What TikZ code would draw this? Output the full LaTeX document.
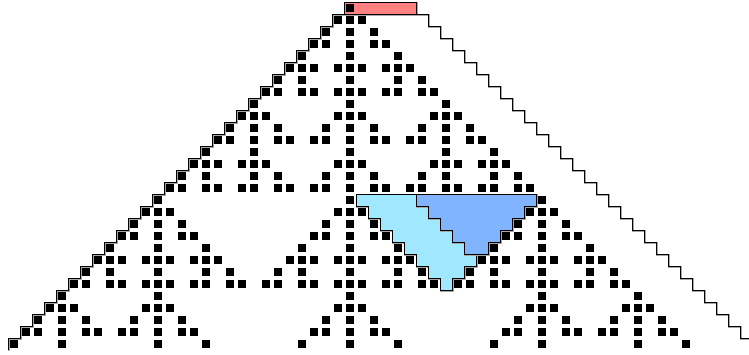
\documentclass[tikz,border=0pt]{standalone}
\definecolor{pinkfill}{HTML}{FF8080}
\definecolor{lightbluefill}{HTML}{A0E8FF}
\definecolor{darkbluefill}{HTML}{80B4FF}
\def\cellval#1#2{\ifcsname CA:#1:#2\endcsname 1\else 0\fi}
\expandafter\gdef\csname CA:0:0\endcsname{}
\foreach \r in {1,...,28}{%
  \foreach \c in {-28,...,28}{%
    \ifodd\numexpr\cellval{\the\numexpr\r-1\relax}{\the\numexpr\c-1\relax}+\cellval{\the\numexpr\r-1\relax}{\c}+\cellval{\the\numexpr\r-1\relax}{\the\numexpr\c+1\relax}\relax
      \expandafter\gdef\csname CA:\r:\c\endcsname{}%
    \fi
  }%
}
\begin{document}
\begin{tikzpicture}[x=1pt,y=-1pt,
  cellsq/.style={fill=black},
  outline/.style={draw=black,line width=1pt,line join=miter},
  shadowline/.style={draw=black!35,line width=1.2pt,line join=miter}]
\useasboundingbox (0,0) rectangle (749,354);
% shadows of staircases and top block
\foreach \st/\sh in {shadowline/1}{
  \draw[\st,shift={(\sh,\sh)}] (344,14) foreach \r in {0,...,27}{ -- ({332-12*\r},{14+12*\r}) -- ({332-12*\r},{26+12*\r}) };
  \draw[\st,shift={(\sh,\sh)}] (416,14) foreach \r in {0,...,27}{ -- ({428+12*\r},{14+12*\r}) -- ({428+12*\r},{26+12*\r}) };
  \draw[\st,shift={(\sh,\sh)}] (344,2) rectangle (416,14);
}
% top block
\fill[pinkfill] (344,2) rectangle (416,14);
% cells
\foreach \r in {0,...,28}{
  \foreach \c in {-28,...,28}{
    \ifcsname CA:\r:\c\endcsname
      \fill[cellsq] ({350+12*\c-3.8},{8+12*\r-3.8}) rectangle +(7.6,7.6);
    \fi
  }
}
\draw[outline] (344,2) rectangle (416,14);
% staircases
\draw[outline] (344,14) foreach \r in {0,...,27}{ -- ({332-12*\r},{14+12*\r}) -- ({332-12*\r},{26+12*\r}) };
\draw[outline] (416,14) foreach \r in {0,...,27}{ -- ({428+12*\r},{14+12*\r}) -- ({428+12*\r},{26+12*\r}) };
% blue regions
\def\lightregion{(356,194) -- (536,194) -- (536,206) -- (524,206) -- (524,218) -- (512,218) -- (512,230) -- (500,230) -- (500,242) -- (488,242) -- (488,254) -- (476,254) -- (476,266) -- (464,266) -- (464,278) -- (452,278) -- (452,290) -- (440,290) -- (440,278) -- (428,278) -- (428,266) -- (416,266) -- (416,254) -- (404,254) -- (404,242) -- (392,242) -- (392,230) -- (380,230) -- (380,218) -- (368,218) -- (368,206) -- (356,206) -- cycle}
\def\darkregion{(416,194) -- (536,194) -- (536,206) -- (524,206) -- (524,218) -- (512,218) -- (512,230) -- (500,230) -- (500,242) -- (488,242) -- (488,254) -- (464,254) -- (464,242) -- (452,242) -- (452,230) -- (440,230) -- (440,218) -- (428,218) -- (428,206) -- (416,206) -- cycle}
\draw[shadowline,shift={(1,1)}] \lightregion;
\filldraw[fill=lightbluefill,outline] \lightregion;
\draw[shadowline,shift={(1,1)}] \darkregion;
\filldraw[fill=darkbluefill,outline] \darkregion;
\end{tikzpicture}
\end{document}
